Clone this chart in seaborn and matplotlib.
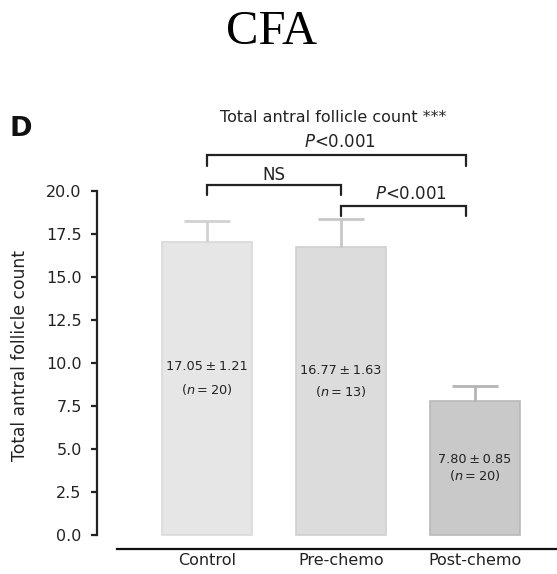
import matplotlib
matplotlib.use("Agg")
import matplotlib.pyplot as plt
import seaborn as sns
import pandas as pd

# Group means, SEM and sample sizes
groups = ["Control", "Pre-chemo", "Post-chemo"]
means = [17.05, 16.77, 7.80]
sems = [1.21, 1.63, 0.85]
ns = [20, 13, 20]
yticks = [0.0, 2.5, 5.0, 7.5, 10.0, 12.5, 15.0, 17.5, 20.0]

bar_colors = ["#e6e6e6", "#dcdcdc", "#c9c9c9"]
edge_colors = ["#d9d9d9", "#cfcfcf", "#b9b9b9"]
err_colors = ["#d2d2d2", "#c8c8c8", "#b4b4b4"]

sns.set_theme(style="white")
plt.rcParams["font.family"] = ["DejaVu Sans"]
TXT = "#222222"

df = pd.DataFrame({"group": groups, "mean": means})

fig = plt.figure(figsize=(5.57, 5.74), dpi=100)
ax = fig.add_axes([97 / 557, 25 / 574, 1 - 97 / 557, 449 / 574])

sns.barplot(data=df, x="group", y="mean", hue="group", palette=bar_colors,
            width=0.67, legend=False, ax=ax, errorbar=None)
for patch, ec in zip(ax.patches, edge_colors):
    patch.set_edgecolor(ec)
    patch.set_linewidth(1.2)

# Upward-only SEM whiskers with a cap at the top
cap_half = 0.175
for i, (m, s, c) in enumerate(zip(means, sems, err_colors)):
    ax.plot([i, i], [m, m + s], color=c, lw=2, solid_capstyle="butt")
    ax.plot([i - cap_half, i + cap_half], [m + s, m + s], color=c, lw=2,
            solid_capstyle="butt")

# Value labels inside bars
label_y1 = [9.79, 9.59, 4.40]
label_y2 = [8.43, 8.37, 3.45]
for i, (m, s, n, y1, y2) in enumerate(zip(means, sems, ns, label_y1, label_y2)):
    ax.text(i, y1, f"{m:.2f}\u2009\u00b1\u2009{s:.2f}", ha="center", va="center",
            fontsize=9.3, color=TXT)
    ax.text(i, y2, f"($\\it{{n}}$\u2009=\u2009{n})", ha="center", va="center",
            fontsize=9.3, color=TXT)

ax.set_ylim(-0.814, 25.29)
ax.set_xlim(-0.821, 2.612)
ax.set_yticks(yticks)
ax.set_yticklabels([f"{t:.1f}" for t in yticks], fontsize=11.5, color=TXT)
ax.set_xticks(range(3))
ax.set_xticklabels(groups, fontsize=11.5, color=TXT)
ax.set_xlabel("")
ax.set_ylabel("Total antral follicle count", fontsize=12.3, color=TXT)
ax.yaxis.set_label_coords(-0.148, 0.43)

for side in ["top", "right"]:
    ax.spines[side].set_visible(False)
ax.spines["left"].set_bounds(0, 20)
ax.spines["left"].set_linewidth(1.6)
ax.spines["left"].set_color(TXT)
ax.spines["bottom"].set_bounds(-0.672, 2.612)
ax.spines["bottom"].set_linewidth(1.6)
ax.spines["bottom"].set_color("#111111")
ax.tick_params(axis="y", direction="out", length=4, width=1.6, color=TXT, pad=7, left=True)
ax.tick_params(axis="x", length=0, pad=3)


def bracket(x0, x1, y, drop, label, ty, tx=None):
    ax.plot([x0, x0, x1, x1], [y - drop, y, y, y - drop], color=TXT,
            lw=1.6, clip_on=False, solid_joinstyle="miter")
    if tx is None:
        tx = (x0 + x1) / 2
    ax.text(tx, ty, label, ha="center", va="center", fontsize=12, color=TXT)


bracket(0, 1.93, 22.1, 0.65, "$\\it{P}$<0.001", 22.85, tx=0.99)
bracket(0, 1.0, 20.35, 0.6, "NS", 20.95)
bracket(1.0, 1.93, 19.1, 0.55, "$\\it{P}$<0.001", 19.85, tx=1.52)

ax.text(0.94, 24.25, "Total antral follicle count ***", ha="center", va="center",
        fontsize=11.5, color=TXT)

fig.text(21 / 557, 1 - 129 / 574, "D", fontsize=19.5, fontweight="bold",
         ha="center", va="center", color="#111111")
fig.text(272 / 557, 1 - 32 / 574, "CFA", fontsize=35, family="Liberation Serif",
         ha="center", va="center", color="#000000")

fig.savefig("out.png", dpi=100, facecolor="white")
